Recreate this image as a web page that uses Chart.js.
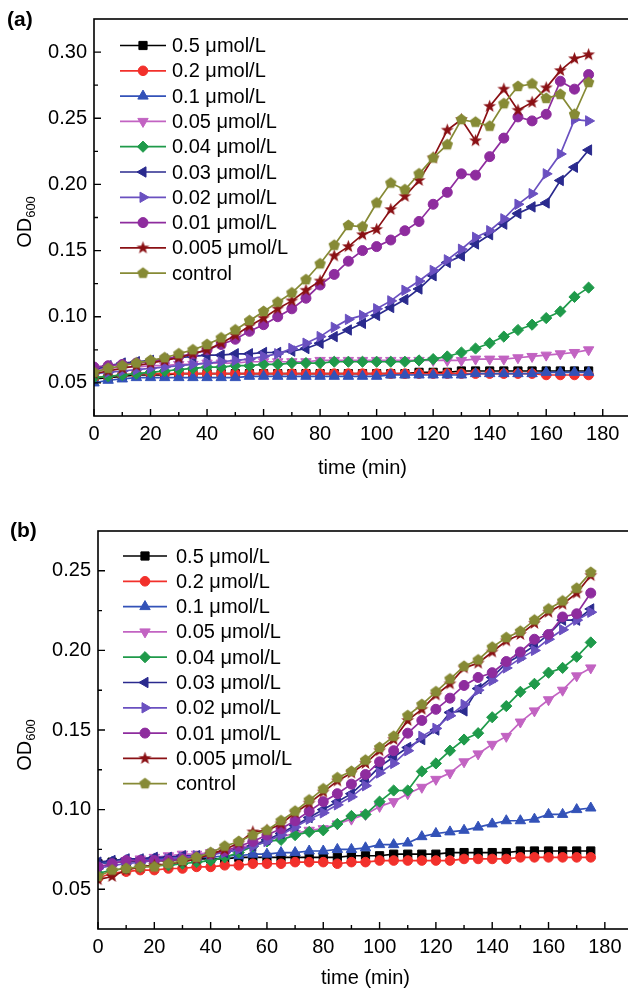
<!DOCTYPE html>
<html>
<head>
<meta charset="utf-8">
<title>OD600 growth curves</title>
<script src="https://cdn.jsdelivr.net/npm/chart.js@4.4.1/dist/chart.umd.min.js"></script>
<style>
  html, body { margin: 0; padding: 0; background: #fff; overflow: hidden; }
  .panel { position: absolute; left: 0; width: 640px; height: 496px; }
</style>
</head>
<body>
<div class="panel" style="top:0"><canvas id="chartA" width="640" height="496"></canvas></div>
<div class="panel" style="top:496px"><canvas id="chartB" width="640" height="496"></canvas></div>
<script>
// sampling times (min)
const timeMin = [0, 5, 10, 15, 20, 25, 30, 35, 40, 45, 50, 55, 60, 65, 70, 75, 80, 85,
                 90, 95, 100, 105, 110, 115, 120, 125, 130, 135, 140, 145, 150, 155, 160, 165, 170, 175];

const seriesLabels = ['0.5 μmol/L', '0.2 μmol/L', '0.1 μmol/L', '0.05 μmol/L', '0.04 μmol/L',
                      '0.03 μmol/L', '0.02 μmol/L', '0.01 μmol/L', '0.005 μmol/L', 'control'];

const xTicks = [0, 20, 40, 60, 80, 100, 120, 140, 160, 180];
const yTicksA = [0.05, 0.10, 0.15, 0.20, 0.25, 0.30];
const yTicksB = [0.05, 0.10, 0.15, 0.20, 0.25];

// panel (a)
const odA_05 = [0.053,0.054,0.055,0.056,0.056,0.056,0.057,0.057,0.057,0.057,0.057,0.057,0.057,0.057,0.057,0.057,0.057,0.057,
                0.057,0.057,0.057,0.057,0.057,0.058,0.058,0.058,0.059,0.059,0.059,0.059,0.059,0.059,0.059,0.059,0.059,0.059];
const odA_02 = [0.054,0.055,0.056,0.057,0.057,0.057,0.057,0.057,0.057,0.057,0.057,0.057,0.057,0.057,0.057,0.057,0.057,0.057,
                0.057,0.057,0.057,0.057,0.057,0.057,0.057,0.057,0.057,0.057,0.057,0.057,0.057,0.057,0.056,0.056,0.056,0.056];
const odA_01 = [0.050,0.052,0.053,0.054,0.054,0.054,0.054,0.054,0.054,0.054,0.054,0.055,0.055,0.055,0.055,0.055,0.055,0.055,
                0.055,0.055,0.055,0.056,0.056,0.056,0.056,0.056,0.056,0.057,0.057,0.057,0.057,0.057,0.058,0.058,0.058,0.058];
const odA_005 = [0.060,0.061,0.062,0.062,0.063,0.063,0.064,0.064,0.065,0.065,0.065,0.066,0.066,0.066,0.066,0.066,0.067,0.067,
                 0.067,0.067,0.067,0.067,0.067,0.067,0.067,0.067,0.067,0.068,0.068,0.068,0.069,0.070,0.071,0.072,0.073,0.075];
const odA_004 = [0.054,0.055,0.056,0.057,0.058,0.059,0.060,0.061,0.062,0.062,0.063,0.063,0.064,0.064,0.065,0.065,0.065,0.066,
                 0.066,0.066,0.066,0.066,0.066,0.067,0.068,0.070,0.073,0.076,0.080,0.085,0.090,0.094,0.099,0.104,0.115,0.122];
const odA_003 = [0.060,0.063,0.065,0.066,0.067,0.068,0.069,0.070,0.071,0.071,0.072,0.072,0.073,0.073,0.074,0.076,0.080,0.085,
                 0.090,0.095,0.101,0.107,0.113,0.121,0.131,0.141,0.146,0.155,0.162,0.170,0.178,0.183,0.186,0.203,0.213,0.226];
const odA_002 = [0.057,0.058,0.059,0.060,0.061,0.062,0.063,0.064,0.065,0.066,0.067,0.068,0.070,0.072,0.076,0.080,0.085,0.092,
                 0.098,0.101,0.106,0.112,0.120,0.127,0.135,0.143,0.151,0.160,0.165,0.174,0.185,0.193,0.208,0.223,0.249,0.248];
const odA_001 = [0.062,0.063,0.064,0.065,0.066,0.068,0.070,0.072,0.075,0.079,0.083,0.089,0.094,0.100,0.106,0.114,0.124,0.132,
                 0.142,0.150,0.153,0.158,0.165,0.172,0.185,0.194,0.208,0.207,0.221,0.235,0.251,0.248,0.253,0.278,0.272,0.283];
const odA_0005 = [0.057,0.059,0.061,0.063,0.065,0.067,0.069,0.072,0.075,0.080,0.086,0.093,0.099,0.106,0.112,0.120,0.127,0.146,
                  0.153,0.162,0.166,0.181,0.191,0.203,0.220,0.241,0.249,0.233,0.259,0.272,0.256,0.262,0.273,0.286,0.295,0.298];
const odA_ctrl = [0.058,0.061,0.063,0.065,0.067,0.069,0.072,0.075,0.079,0.084,0.090,0.097,0.104,0.111,0.118,0.128,0.140,0.154,
                  0.169,0.168,0.186,0.201,0.196,0.208,0.220,0.230,0.249,0.247,0.244,0.261,0.274,0.276,0.265,0.268,0.253,0.277];

// panel (b)
const odB_05 = [0.066,0.067,0.067,0.068,0.068,0.068,0.069,0.069,0.069,0.069,0.070,0.070,0.070,0.070,0.070,0.070,0.070,0.070,
                0.071,0.071,0.071,0.072,0.072,0.072,0.072,0.073,0.073,0.073,0.073,0.073,0.074,0.074,0.074,0.074,0.074,0.074];
const odB_02 = [0.057,0.060,0.061,0.062,0.062,0.063,0.063,0.064,0.064,0.065,0.065,0.066,0.066,0.066,0.067,0.067,0.067,0.066,
                0.067,0.067,0.068,0.068,0.068,0.068,0.068,0.068,0.069,0.069,0.069,0.069,0.070,0.070,0.070,0.070,0.070,0.070];
const odB_01 = [0.066,0.067,0.068,0.068,0.069,0.069,0.070,0.070,0.070,0.071,0.071,0.072,0.072,0.073,0.073,0.074,0.074,0.075,
                0.075,0.076,0.078,0.078,0.079,0.083,0.085,0.086,0.087,0.089,0.091,0.093,0.093,0.094,0.097,0.097,0.100,0.101];
const odB_005 = [0.064,0.066,0.068,0.069,0.070,0.071,0.072,0.072,0.073,0.074,0.076,0.078,0.081,0.083,0.085,0.087,0.088,0.091,
                 0.094,0.097,0.102,0.105,0.110,0.114,0.119,0.123,0.130,0.135,0.141,0.146,0.155,0.162,0.169,0.175,0.184,0.189];
const odB_004 = [0.060,0.062,0.063,0.064,0.065,0.065,0.066,0.067,0.068,0.070,0.073,0.077,0.080,0.081,0.084,0.086,0.087,0.091,
                 0.096,0.097,0.105,0.112,0.112,0.124,0.129,0.137,0.144,0.148,0.158,0.165,0.174,0.179,0.186,0.189,0.196,0.205];
const odB_003 = [0.067,0.068,0.069,0.069,0.070,0.070,0.071,0.071,0.072,0.073,0.075,0.077,0.081,0.085,0.090,0.095,0.100,0.105,
                 0.110,0.118,0.127,0.133,0.139,0.144,0.150,0.161,0.162,0.176,0.183,0.192,0.197,0.203,0.210,0.219,0.219,0.226];
const odB_002 = [0.063,0.065,0.066,0.067,0.068,0.069,0.070,0.071,0.072,0.073,0.075,0.077,0.080,0.084,0.089,0.094,0.098,0.103,
                 0.108,0.115,0.123,0.129,0.137,0.146,0.151,0.159,0.166,0.175,0.181,0.189,0.195,0.200,0.207,0.213,0.219,0.224];
const odB_001 = [0.064,0.066,0.068,0.068,0.068,0.068,0.069,0.070,0.072,0.074,0.077,0.080,0.084,0.088,0.093,0.099,0.105,0.110,
                 0.116,0.122,0.130,0.137,0.148,0.156,0.163,0.170,0.178,0.183,0.186,0.193,0.199,0.207,0.210,0.221,0.223,0.236];
const odB_0005 = [0.056,0.058,0.062,0.064,0.065,0.066,0.067,0.069,0.072,0.075,0.079,0.086,0.087,0.091,0.098,0.104,0.111,0.118,
                  0.123,0.129,0.137,0.144,0.156,0.163,0.172,0.179,0.189,0.192,0.199,0.206,0.210,0.217,0.224,0.229,0.236,0.247];
const odB_ctrl = [0.058,0.062,0.063,0.064,0.064,0.066,0.068,0.070,0.073,0.077,0.080,0.084,0.087,0.093,0.099,0.106,0.113,0.120,
                  0.124,0.131,0.139,0.146,0.159,0.166,0.174,0.182,0.190,0.194,0.202,0.208,0.212,0.219,0.226,0.231,0.239,0.249];

const panelA = [odA_05, odA_02, odA_01, odA_005, odA_004, odA_003, odA_002, odA_001, odA_0005, odA_ctrl];
const panelB = [odB_05, odB_02, odB_01, odB_005, odB_004, odB_003, odB_002, odB_001, odB_0005, odB_ctrl];

// look of each series
const seriesColors = ['#000000', '#F2302B', '#3352B8', '#C263C2', '#1F9A4A',
                      '#2A2A8E', '#6A50C0', '#8E2C9E', '#8A1014', '#868A35'];

function shapeCanvas(color, kind) {
  const c = document.createElement('canvas');
  c.width = 15; c.height = 15;
  const g = c.getContext('2d');
  const n = kind === 'star' ? 10 : 5;
  g.fillStyle = color;
  g.beginPath();
  for (let i = 0; i < n; i++) {
    const r = kind === 'star' ? (i % 2 ? 2.8 : 6.8) : 6;
    const ang = -Math.PI / 2 + i * 2 * Math.PI / n;
    const px = 7.5 + r * Math.cos(ang), py = 7.5 + r * Math.sin(ang);
    if (i === 0) g.moveTo(px, py); else g.lineTo(px, py);
  }
  g.closePath();
  g.fill();
  return c;
}

const seriesMarkers = [
  { style: 'rect', rot: 0, r: 5.8 },
  { style: 'circle', rot: 0, r: 4.8 },
  { style: 'triangle', rot: 0, r: 6 },
  { style: 'triangle', rot: 180, r: 6 },
  { style: 'rectRot', rot: 0, r: 5.6 },
  { style: 'triangle', rot: 270, r: 6 },
  { style: 'triangle', rot: 90, r: 6 },
  { style: 'circle', rot: 0, r: 5 },
  { style: shapeCanvas(seriesColors[8], 'star'), rot: 0, r: 5 },
  { style: shapeCanvas(seriesColors[9], 'pent'), rot: 0, r: 5 }
];

Chart.defaults.font.family = "'Liberation Sans', Arial, sans-serif";
Chart.defaults.font.size = 20;
Chart.defaults.color = '#000';

const FONT = "'Liberation Sans', Arial, sans-serif";

function buildDatasets(values) {
  return values.map((vals, i) => ({
    label: seriesLabels[i],
    data: timeMin.map((t, k) => ({ x: t, y: vals[k] })),
    borderColor: seriesColors[i],
    backgroundColor: seriesColors[i],
    borderWidth: 1.7,
    pointStyle: seriesMarkers[i].style,
    pointRotation: seriesMarkers[i].rot,
    pointRadius: seriesMarkers[i].r,
    pointBackgroundColor: seriesColors[i],
    pointBorderColor: seriesColors[i],
    pointBorderWidth: 1,
    tension: 0,
    fill: false,
    order: values.length - i
  }));
}

function decor(cfg) {
  return {
    id: 'decor',
    afterDraw(chart) {
      const ctx = chart.ctx, a = chart.chartArea;
      const xs = chart.scales.x, ys = chart.scales.y;
      ctx.save();

      // frame
      ctx.strokeStyle = '#000';
      ctx.lineWidth = 1.6;
      ctx.strokeRect(a.left, a.top, a.right - a.left, a.bottom - a.top);

      // inward tick marks, minor ones half way between labels
      ctx.lineWidth = 1.4;
      ctx.beginPath();
      xTicks.forEach((v, i) => {
        let px = xs.getPixelForValue(v);
        ctx.moveTo(px, a.bottom); ctx.lineTo(px, a.bottom - 7);
        const step = i + 1 < xTicks.length ? xTicks[i + 1] - v : v - xTicks[i - 1];
        const mid = v + step / 2;
        if (mid < xs.max) {
          px = xs.getPixelForValue(mid);
          ctx.moveTo(px, a.bottom); ctx.lineTo(px, a.bottom - 4);
        }
      });
      cfg.yTicks.forEach((v, i) => {
        let py = ys.getPixelForValue(v);
        ctx.moveTo(a.left, py); ctx.lineTo(a.left + 7, py);
        const step = i + 1 < cfg.yTicks.length ? cfg.yTicks[i + 1] - v : v - cfg.yTicks[i - 1];
        [v - step / 2, v + step / 2].forEach(m => {
          if (m > ys.min + 1e-6 && m < ys.max - 1e-6) {
            py = ys.getPixelForValue(m);
            ctx.moveTo(a.left, py); ctx.lineTo(a.left + 4, py);
          }
        });
      });
      ctx.stroke();

      // panel tag
      ctx.fillStyle = '#000';
      ctx.font = 'bold 21px ' + FONT;
      ctx.textAlign = 'left';
      ctx.textBaseline = 'middle';
      ctx.fillText(cfg.tag, cfg.tagX, cfg.tagY);

      // y title OD600 with subscript
      ctx.save();
      ctx.translate(31, cfg.titleY);
      ctx.rotate(-Math.PI / 2);
      ctx.textBaseline = 'alphabetic';
      ctx.font = '20px ' + FONT;
      const wOD = ctx.measureText('OD').width;
      ctx.font = '13px ' + FONT;
      const wSub = ctx.measureText('600').width;
      const x0 = -(wOD + wSub) / 2;
      ctx.font = '20px ' + FONT;
      ctx.fillText('OD', x0, 0);
      ctx.font = '13px ' + FONT;
      ctx.fillText('600', x0 + wOD, 4);
      ctx.restore();

      // legend inside the plot
      const drawPoint = Chart.helpers && Chart.helpers.drawPoint;
      chart.data.datasets.forEach((ds, i) => {
        const y = cfg.legTop + i * cfg.legStep;
        ctx.strokeStyle = ds.borderColor;
        ctx.lineWidth = 1.7;
        ctx.beginPath();
        ctx.moveTo(cfg.legX0, y); ctx.lineTo(cfg.legX1, y);
        ctx.stroke();
        const cx = (cfg.legX0 + cfg.legX1) / 2;
        ctx.fillStyle = ds.pointBackgroundColor;
        ctx.lineWidth = 1;
        if (drawPoint) {
          drawPoint(ctx, { pointStyle: ds.pointStyle, rotation: ds.pointRotation, radius: ds.pointRadius, borderWidth: 1 }, cx, y);
        } else {
          ctx.beginPath(); ctx.arc(cx, y, 4.8, 0, Math.PI * 2); ctx.fill();
        }
        ctx.fillStyle = '#000';
        ctx.font = '20px ' + FONT;
        ctx.textBaseline = 'middle';
        ctx.fillText(ds.label, cfg.legText, y + 1);
      });
      ctx.restore();
    }
  };
}

function makeChart(id, values, cfg) {
  new Chart(document.getElementById(id), {
    type: 'line',
    data: { datasets: buildDatasets(values) },
    options: {
      responsive: false,
      animation: false,
      layout: { padding: { top: cfg.padTop, right: cfg.padRight, bottom: 0, left: 0 } },
      plugins: { legend: { display: false }, tooltip: { enabled: false } },
      scales: {
        x: {
          type: 'linear', min: 0, max: 190,
          afterBuildTicks: s => { s.ticks = xTicks.map(v => ({ value: v })); },
          afterFit: s => { s.height = cfg.xHeight; },
          grid: { display: false, drawTicks: false },
          border: { display: false },
          ticks: { padding: 6, maxRotation: 0, autoSkip: false, color: '#000' },
          title: { display: true, text: 'time (min)', color: '#000', padding: { top: 0, bottom: cfg.titlePad } }
        },
        y: {
          min: cfg.yMin, max: cfg.yMax,
          afterBuildTicks: s => { s.ticks = cfg.yTicks.map(v => ({ value: v })); },
          afterFit: s => { s.width = cfg.yWidth; },
          grid: { display: false, drawTicks: false },
          border: { display: false },
          ticks: { padding: 7, color: '#000', callback: v => v.toFixed(2) }
        }
      }
    },
    plugins: [decor(cfg)]
  });
}

makeChart('chartA', panelA, {
  yTicks: yTicksA, yMin: 0.025, yMax: 0.325,
  padTop: 17, padRight: 9, xHeight: 80, yWidth: 94, titlePad: 16,
  tag: '(a)', tagX: 7, tagY: 20, titleY: 222,
  legX0: 120, legX1: 166, legText: 172, legTop: 45.5, legStep: 25.3
});

makeChart('chartB', panelB, {
  yTicks: yTicksB, yMin: 0.025, yMax: 0.275,
  padTop: 35, padRight: 4, xHeight: 63, yWidth: 98, titlePad: 2,
  tag: '(b)', tagX: 10, tagY: 35, titleY: 249,
  legX0: 123, legX1: 167, legText: 176, legTop: 60, legStep: 25.3
});
</script>
</body>
</html>
